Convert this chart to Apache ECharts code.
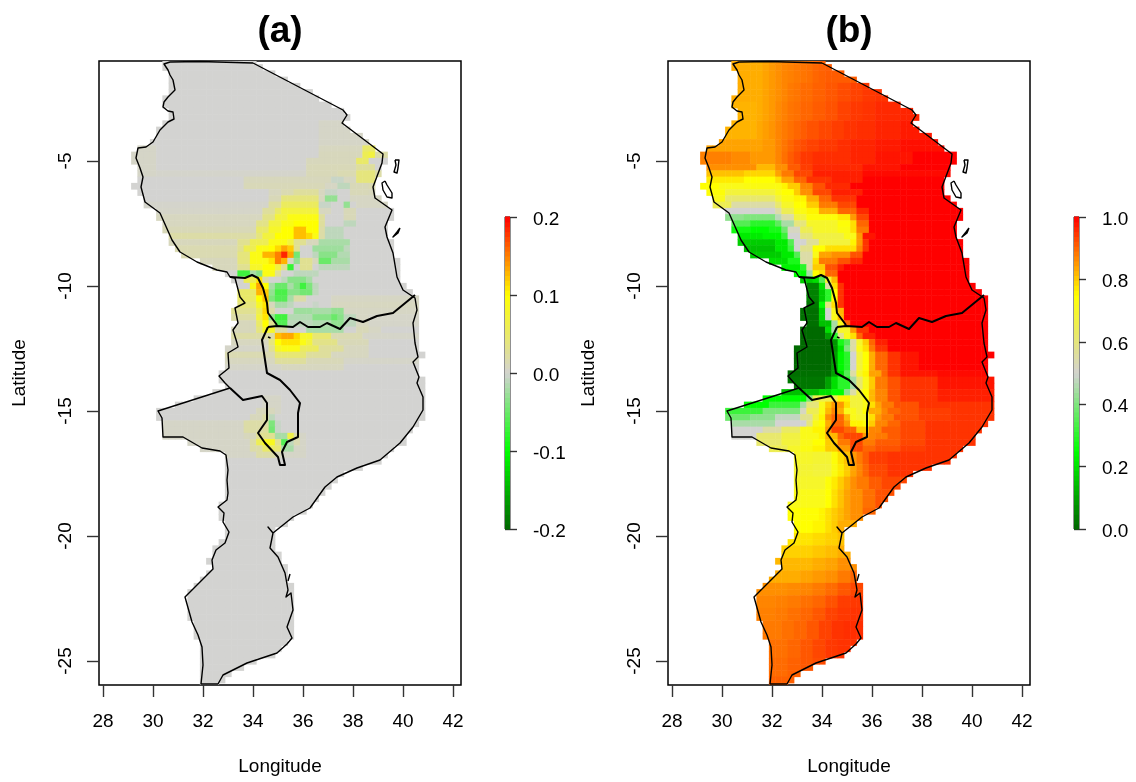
<!DOCTYPE html>
<html><head><meta charset="utf-8">
<style>html,body{margin:0;padding:0;background:#fff}#c{width:1136px;height:782px}</style>
<script src="https://cdn.jsdelivr.net/npm/echarts@6/dist/echarts.min.js"></script>
</head><body><div id="c"></div>
<script>
const titles = ['(a)', '(b)'];
const xTicks = [28,30,32,34,36,38,40,42];
const yTicks = [-25,-20,-15,-10,-5];
const colorStops = ['#006400','#00FF00','#D3D3D1','#FFFF00','#FF0000'];
// land extent of every 0.25 degree row, from lat -1 down to lat -26
const landWest = [30.5,30.5,30.75,30.75,30.75,30.75,30.5,30.5,30.75,30.75,
30.5,30.25,30.25,30,29.5,29.25,29.25,29.5,29.5,29.5,
29.25,29.5,29.75,29.75,30.25,30.25,30.5,30.5,30.75,30.75,
31,31.25,32,32.5,33,33.25,33.5,33.5,33.5,33.5,
33.25,33.25,33.5,33.25,33.25,33.25,33,33,33,33,
32.75,32.75,33,32.5,31.75,31,30.25,30.25,30.5,30.5,
30.5,31.5,32,33,33,33,33,33,33,33,
33,32.75,32.75,32.75,33,33,33,32.75,32.5,32.5,
32.25,32.5,32.25,32,31.75,31.5,31.5,31.5,31.5,31.5,
31.75,31.75,31.75,32,32,32,32,32,32,32,32];
const landEast = [34,34.25,34.75,35.25,35.75,36.25,36.5,37,37.5,37.75,
37.5,37.75,38.25,38.5,38.75,39.25,39.25,39,39,38.75,
38.75,38.75,39,39.25,39.5,39.5,39.25,39.25,39.25,39.5,
39.5,39.5,39.75,39.75,39.75,39.75,40,40.25,40.5,40.5,
40.5,40.5,40.5,40.5,40.5,40.5,40.5,40.75,40.5,40.5,
40.5,40.75,40.75,40.75,40.75,40.75,40.75,40.75,40.5,40.25,
40,40,39.5,39.25,39,38.25,37.5,37.25,37,36.75,
36.5,36.25,36,35.5,35.25,34.75,34.75,34.75,34.75,35,
35,35.25,35.25,35.25,35.5,35.5,35.5,35.5,35.5,35.5,
35.5,35.5,35.5,35.25,35,34.75,34,33.5,33,32.75,32.5];
// each entry: how many rows it covers, then pairs of (last longitude, value)
const fieldA = [
[10,42,0],[4,36.5,0,38.5,.005,42,.006],
[1,30,.005,36.5,0,38.25,.008,38.75,.05,42,.015],
[1,30,.005,36.5,0,38.25,.01,38.5,.06,38.75,.07,42,.02],
[1,30,.005,36,0,38,.01,38.5,.05,42,0],
[1,30,.005,36,0,38,.012,38.75,.025,42,0],
[1,30,.005,36,.003,37.25,.012,38,.015,38.75,.04,42,.02],
[1,33.5,0,37,.01,37.5,-.005,38,.008,38.75,.04,42,.01],
[1,33.5,0,36.75,.012,37.25,.006,37.75,-.01,38.5,.012,42,.015],
[1,34.5,0,35,.008,35.5,.015,36.5,.025,36.75,.008,37.25,-.005,37.75,0,38.5,.012,42,.01],
[1,34.5,0,35,.012,36.5,.04,36.75,.008,37.25,-.03,37.75,0,42,.006],
[1,34.5,.003,35,.025,36.5,.055,37,-.005,37.5,0,37.75,-.03,38,0,42,.006],
[1,34.25,.004,34.75,.025,35,.05,36.5,.07,37,.008,37.5,0,38,.012,42,0],
[1,34.25,.008,34.75,.035,35.25,.07,36.5,.09,36.75,.025,37.5,0,38,.012,42,0],
[1,34,.008,34.5,.035,35,.07,35.5,.09,36.5,.1,36.75,.025,37.5,0,38,-.01,42,0],
[1,34,.012,34.5,.05,35,.08,35.5,.1,36,.125,36.5,.1,36.75,.02,37.5,-.01,42,0],
[1,34,.02,34.25,.04,34.75,.07,35.5,.1,36,.125,36.25,.115,36.5,.09,36.75,.02,37.5,-.01,42,0],
[1,33.25,.01,33.75,.03,34.5,.06,35.25,.09,35.5,.07,36,.03,36.5,.01,37.75,-.02,42,0],
[1,33.25,.015,33.5,.03,34,.06,34.5,.09,34.75,.1,35,.115,35.25,.135,35.5,.12,35.75,.03,36.25,0,37.5,-.025,37.75,-.01,42,0],
[1,33.25,.015,33.75,.04,34.25,.09,34.75,.13,35,.15,35.25,.185,35.5,.135,35.75,-.045,36.25,0,36.5,-.01,37.25,-.035,37.75,-.015,42,0],
[1,33.25,.01,33.75,.04,34.5,.09,34.75,.11,35,.15,35.25,.13,35.5,.005,35.75,-.03,36.25,.03,36.5,.01,37,-.05,37.75,-.02,42,0],
[1,33.25,.01,33.75,.03,34.25,.08,34.75,.1,35,.07,35.25,.03,35.5,-.075,35.75,0,36.25,.03,36.5,0,37.75,-.01,42,0],
[1,33.25,0,33.75,-.07,34,-.02,34.25,-.035,34.75,.09,35,.03,35.5,0,36.5,-.01,42,0],
[1,33.5,0,34,.06,34.25,.11,34.5,.02,35,0,35.25,-.01,36,-.035,36.25,-.02,42,0],
[1,33.75,0,34,.09,34.25,.135,34.5,.1,34.75,-.02,35.25,-.05,35.5,-.02,35.75,-.04,36,-.07,36.25,-.04,36.5,-.01,42,0],
[1,34,.05,34.25,.13,34.5,.12,34.75,-.03,35.25,-.065,35.75,-.035,36.25,-.045,36.5,-.01,42,0],
[1,34,.05,34.25,.1,34.5,.125,34.75,-.04,35.25,-.06,35.5,-.02,36,.02,37,0,42,.006],
[1,34,.04,34.25,.08,34.5,.11,34.75,.01,35.25,-.02,35.5,-.01,36.25,0,36.5,-.005,37,0,37.5,.008,42,.008],
[1,34,.03,34.25,.06,34.5,.115,34.75,.02,35.5,0,36.25,-.025,37,-.02,37.5,-.03,38,.006,42,.006],
[1,34,.02,34.25,.07,34.5,.11,34.75,-.03,35.25,-.07,36.25,-.015,37,-.035,37.25,-.05,37.5,-.035,38,-.01,38.5,.006,42,.004],
[1,34,.01,34.25,.05,34.5,.1,34.75,.03,35.25,-.06,36.25,-.01,37,-.015,37.5,-.03,38,-.01,38.5,.008,42,.004],
[1,34,.01,34.25,.04,34.75,.08,35.25,.02,36,0,37.5,-.02,38,0,38.5,.012,39,.006,42,0],
[1,34.75,.02,35,.125,35.5,.135,35.75,.115,36.25,.08,37,.045,38.25,.015,42,.004],
[1,34.5,.008,34.75,.04,35,.1,35.75,.11,36,.09,36.25,.07,37.25,.035,38.5,.012,42,0],
[1,34.5,.004,34.75,.03,35,.08,35.75,.09,36.5,.055,37.5,.025,38.5,.008,42,0],
[1,34.75,.015,36,.045,37,.025,38.5,.008,42,0],
[1,34.75,.008,36,.025,37.5,.012,42,.004],
[1,35,.004,37.5,.008,42,0],
[4,42,0],
[2,34.25,0,35,.005,42,0],
[1,34,0,34.75,.01,35,.005,42,0],
[1,33.75,0,34.25,.01,34.5,.02,34.75,-.01,42,0],
[1,33.5,.005,34.5,.02,34.75,-.04,35,-.005,42,0],
[1,33.5,.005,34.25,.02,34.5,.025,34.75,-.045,35,-.005,42,0],
[1,33.5,.005,34,.01,34.75,.03,35.25,-.02,35.5,.065,35.75,.02,36,.005,42,0],
[1,33.75,.005,34,.02,34.25,.06,34.75,.085,35,.03,35.25,-.06,35.5,-.01,35.75,.015,36,.005,42,0],
[1,33.75,.005,34.25,.02,34.75,.05,35,.045,35.5,-.02,36,.005,42,0],
[1,34,.005,34.75,.02,35,.01,36,.005,42,0],
[37,42,0]
];
const fieldB = [
[4,31.5,.83,31.75,.84,32,.85,32.25,.86,32.5,.87,32.75,.875,33,.88,33.25,.885,33.5,.89,33.75,.9,34,.905,42,.91],
[3,31.5,.83,31.75,.84,32,.85,32.25,.86,32.5,.87,32.75,.88,33,.885,33.5,.895,34,.905,34.5,.915,35,.925,35.5,.935,36,.945,42,.95],
[3,31.25,.825,31.5,.83,31.75,.84,32,.85,32.25,.865,32.5,.875,32.75,.885,33,.89,33.5,.9,34,.91,34.5,.92,35,.935,35.5,.945,36,.95,37,.96,42,.965],
[3,31.25,.825,31.5,.835,31.75,.845,32,.855,32.25,.87,32.5,.88,32.75,.89,33,.9,33.25,.91,33.75,.92,34.25,.93,34.75,.94,35.25,.95,36,.955,37,.965,42,.975],
[2,31.5,.84,32,.85,32.25,.87,32.5,.885,32.75,.9,33,.915,33.25,.925,33.75,.935,34.5,.945,35,.955,36,.965,37,.975,42,.985],
[2,30.25,.875,31,.865,31.5,.85,32,.85,32.25,.87,32.5,.89,32.75,.91,33,.925,33.5,.945,35,.955,36,.965,37.5,.98,42,1],
[1,31.25,.86,32,.82,32.5,.86,33,.91,33.5,.94,35.5,.96,37,.98,42,1],
[1,30.75,.81,32,.79,32.25,.84,32.75,.88,33.5,.93,35.5,.97,42,.99],
[1,30.75,.77,32,.75,32.25,.78,32.75,.84,33.25,.9,34.25,.95,35.5,.97,42,1],
[1,29.75,.75,30.75,.72,32.25,.73,32.5,.76,33,.8,33.5,.87,34,.92,35,.96,42,1],
[1,30,.74,32,.68,32.25,.72,32.75,.75,33,.8,33.5,.86,34.25,.93,35.5,.97,42,1],
[1,30,.72,32,.62,32.25,.68,32.75,.73,33.25,.76,33.75,.83,34.25,.9,35.25,.95,42,1],
[1,30.25,.65,32,.55,32.25,.62,32.75,.7,33.25,.75,33.75,.8,34.5,.88,35.25,.93,42,1],
[1,32,.5,32.25,.55,32.75,.65,33.25,.73,33.75,.76,34.5,.83,35.25,.9,35.75,.96,42,1],
[1,30.75,.42,32,.4,32.25,.47,32.75,.55,33.25,.68,34.5,.74,35,.77,35.25,.85,35.75,.93,42,1],
[1,31,.35,32,.3,32.25,.36,32.75,.45,33.25,.6,34.5,.7,35,.74,35.25,.78,35.75,.9,42,1],
[1,31,.27,31.75,.25,32.25,.28,32.5,.38,33,.52,33.5,.65,34.5,.7,35,.73,35.25,.78,35.75,.88,42,1],
[1,31.5,.22,32.25,.24,32.5,.32,33,.5,33.5,.6,34.75,.67,35.25,.72,35.5,.85,36,.98,42,1],
[1,32,.17,32.5,.22,32.75,.35,33.25,.5,33.75,.57,35,.68,35.25,.76,35.5,.85,35.75,.95,42,1],
[1,32,.15,32.5,.22,32.75,.32,33,.5,33.5,.58,34,.75,35.25,.78,35.5,.87,35.75,.95,42,1],
[1,32.25,.17,32.75,.22,33,.35,33.5,.55,33.75,.72,34.25,.84,35,.86,35.5,.92,42,1],
[1,32.5,.2,33,.28,33.5,.55,33.75,.78,34.5,.88,35,.92,35.5,.96,42,1],
[1,33,.23,33.25,.3,33.5,.55,34,.8,34.5,.92,34.75,.97,42,1],
[1,33.25,.25,33.5,.45,33.75,.75,34,.78,34.5,.9,42,1],
[1,33.5,.17,33.75,.2,34,.35,34.25,.7,34.5,.82,42,1],
[1,33.75,.05,34,.2,34.25,.55,34.5,.78,34.75,.95,42,1],
[2,33.75,.05,34,.17,34.25,.3,34.5,.75,34.75,.95,42,1],
[1,33.75,.03,34,.25,34.25,.6,34.5,.78,34.75,.95,42,1],
[2,33.75,.02,34,.18,34.25,.5,34.5,.72,34.75,.82,42,1],
[1,33.75,.02,34.25,.15,34.5,.45,34.75,.72,35,.9,42,1],
[1,34,.01,34.25,.2,34.5,.45,35,.7,35.25,.85,35.75,.95,42,1],
[1,34,.01,34.25,.1,34.5,.3,34.75,.58,35,.72,35.25,.78,35.5,.9,36,.97,42,1],
[1,34.25,.01,34.5,.08,34.75,.28,35,.35,35.25,.55,35.5,.7,35.75,.8,36,.9,36.5,.97,42,1],
[1,34.25,.01,34.5,.08,34.75,.22,35,.4,35.25,.55,35.5,.72,35.75,.78,36,.88,36.5,.95,42,1],
[3,34.25,.01,34.5,.1,34.75,.24,35,.3,35.25,.5,35.5,.68,35.75,.75,36,.83,36.5,.9,37,.95,37.75,.98,42,1],
[1,34.25,.02,34.5,.1,34.75,.2,35,.35,35.25,.55,35.5,.7,35.75,.76,36.25,.84,36.5,.9,37,.95,38.5,.98,42,.99],
[2,34,.03,34.25,.1,34.5,.2,35,.3,35.25,.45,35.5,.62,35.75,.72,36,.8,36.5,.88,37,.92,38.5,.95,42,.98],
[1,33.75,.15,34.25,.2,34.75,.25,35,.42,35.25,.55,35.5,.68,35.75,.75,36,.82,36.5,.87,37,.92,38.5,.95,42,.97],
[1,33.25,.25,33.5,.4,34.5,.66,35,.76,35.5,.68,35.75,.74,36,.82,36.5,.87,37,.92,38.5,.95,42,.97],
[1,31.75,.25,33,.32,33.25,.45,33.75,.6,34,.72,34.25,.8,34.75,.85,35,.78,35.5,.68,35.75,.72,36,.78,36.25,.84,36.75,.88,37.75,.92,42,.95],
[1,31.5,.32,33,.4,33.25,.52,33.75,.65,34,.73,34.25,.82,34.5,.87,34.75,.83,35.25,.72,35.5,.68,35.75,.75,36.25,.83,36.5,.87,37,.9,37.75,.92,39,.94,42,.95],
[1,31,.38,32,.42,33,.48,33.5,.58,33.75,.68,34,.76,34.25,.86,34.75,.9,35,.82,35.25,.72,35.75,.7,36,.78,36.25,.85,36.75,.88,37.75,.92,39,.94,42,.95],
[1,32,.45,33.25,.5,33.5,.6,33.75,.72,34,.75,34.25,.83,34.75,.9,35,.85,35.5,.76,35.75,.74,36,.8,36.5,.87,37,.9,38,.93,42,.95],
[1,31.5,.5,32.25,.55,33,.63,33.5,.72,34,.76,34.25,.85,34.75,.93,35.25,.9,35.5,.8,35.75,.8,36.25,.87,37,.91,38,.93,42,.95],
[1,31.25,.5,32.25,.62,33,.67,33.75,.72,34,.76,34.5,.82,34.75,.9,35.5,.93,35.75,.85,36,.87,36.5,.88,37,.91,38,.93,42,.95],
[1,32.25,.62,33,.68,33.5,.72,34,.75,34.5,.8,35,.88,35.5,.93,36,.88,37,.91,38,.93,42,.95],
[1,32.5,.65,33,.7,33.5,.73,34,.76,34.5,.8,35,.85,35.5,.93,36,.9,37,.92,38,.94,42,.95],
[2,33.5,.7,34.25,.69,34.5,.74,34.75,.78,35,.81,35.25,.85,35.5,.88,35.75,.91,36.5,.94,42,.95],
[2,33.5,.69,34.25,.68,34.5,.73,34.75,.77,35,.8,35.25,.84,35.5,.87,35.75,.9,36.5,.93,42,.95],
[2,34,.7,34.25,.74,34.5,.77,34.75,.8,35,.83,35.25,.86,35.75,.88,36.25,.91,42,.93],
[3,34,.72,34.25,.75,34.5,.78,34.75,.81,35,.84,35.5,.86,36,.89,42,.92],
[2,33.75,.745,34,.76,34.25,.78,34.5,.8,34.75,.82,35,.84,35.5,.86,42,.9],
[2,33.5,.75,34,.76,34.25,.78,34.5,.8,42,.83],
[2,33.5,.775,34,.785,34.5,.795,42,.81],
[2,33.5,.795,34,.805,34.5,.815,42,.83],
[2,33.5,.82,34,.83,34.5,.84,42,.86],
[2,33,.83,33.5,.84,34,.85,34.5,.86,35,.88,42,.9],
[2,32.5,.86,33,.865,33.5,.87,34,.88,34.5,.895,35,.915,42,.93],
[2,32,.87,32.5,.875,33,.88,33.5,.89,34,.9,34.5,.92,35,.94,42,.945],
[2,32,.875,32.5,.88,33,.89,33.5,.9,34,.915,34.5,.935,35,.945,42,.95],
[3,32.25,.88,32.75,.89,33.25,.9,33.75,.915,34.25,.935,34.75,.95,42,.955],
[3,32.5,.89,33,.9,33.5,.915,34,.93,34.5,.945,42,.95],
[3,32.5,.895,33,.905,33.5,.915,34,.925,42,.93],
[2,42,.905]
];
// borders as [longitude, latitude]
const borderCoast = [[34,-1.08],[31.88,-1.02],[30.68,-1.04],[30.44,-1.12],[30.6,-1.36],[30.68,-1.56],[30.8,-1.76],[30.88,-2.16],[30.6,-2.44],[30.44,-2.64],[30.4,-2.84],[30.6,-3],[30.8,-3.04],[30.84,-3.32],[30.6,-3.44],[30.28,-3.76],[30,-4.24],[29.72,-4.44],[29.4,-4.48],[29.32,-4.88],[29.48,-5.28],[29.6,-5.64],[29.52,-6.04],[29.68,-6.64],[30.28,-7.08],[30.76,-8.16],[31.08,-8.64],[31.76,-9.04],[32.56,-9.36],[32.96,-9.44],[33.08,-9.64],[33.28,-9.68],[33.48,-10.44],[33.68,-10.68],[33.28,-10.88],[33.4,-11.48],[33.2,-11.76],[33.36,-12.28],[33.4,-12.44],[33,-12.68],[33.04,-13.28],[32.64,-13.6],[32.88,-13.88],[33.08,-14.08],[30.2,-15],[30.36,-15.28],[30.4,-16.04],[31.2,-16.04],[31.96,-16.48],[32.68,-16.6],[32.92,-16.76],[33,-17.36],[32.96,-17.76],[33,-18.28],[32.96,-18.56],[32.6,-18.84],[32.84,-19.08],[32.8,-19.44],[33.04,-19.84],[32.88,-20.28],[32.52,-20.56],[32.36,-20.96],[32.4,-21.32],[31.28,-22.44],[31.56,-23.44],[31.8,-23.96],[31.96,-24.44],[32,-25.16],[31.92,-25.92],[32,-26],[32.6,-25.92],[32.8,-25.56],[33.76,-25.08],[34.96,-24.68],[35.36,-24.32],[35.56,-24.08],[35.36,-23.64],[35.6,-22.96],[35.52,-22.28],[35.32,-22.44],[35.4,-22.16],[35.28,-21.48],[35,-20.84],[34.68,-20.48],[34.8,-19.88],[34.6,-19.64],[34.8,-19.88],[35.6,-19.24],[36.28,-18.88],[36.88,-18.04],[37.36,-17.64],[38.16,-17.28],[39.08,-16.96],[39.88,-16.28],[40.4,-15.64],[40.8,-14.96],[40.8,-14.44],[40.56,-13.88],[40.64,-13.64],[40.4,-13.04],[40.6,-12.84],[40.48,-12.28],[40.4,-11.48],[40.56,-10.96],[40.48,-10.48],[40,-10.16],[39.76,-9.64],[39.6,-8.68],[39.36,-8.04],[39.28,-7.64],[39.56,-6.96],[38.88,-6.48],[38.8,-6.04],[39.16,-5.08],[39.2,-4.72],[37.56,-3.48],[37.76,-3.16],[37.6,-2.96],[34,-1.08]];
const borderTanzaniaMalawi = [[33.08,-9.64],[33.68,-9.68],[33.96,-9.56],[34.2,-9.68],[34.4,-10.08],[34.56,-10.68],[34.6,-11.08],[34.96,-11.56]];
const borderTanzaniaMozambique = [[34.6,-11.64],[34.96,-11.6],[35.6,-11.64],[35.88,-11.44],[36.2,-11.64],[36.68,-11.64],[36.96,-11.48],[37.48,-11.72],[37.88,-11.28],[38.4,-11.44],[38.96,-11.2],[39.6,-11.08],[40.48,-10.36]];
const borderMalawi = [[34.6,-11.64],[34.36,-12.16],[34.56,-13.48],[35.08,-13.76],[35.48,-14.16],[35.88,-14.68],[35.8,-15.08],[35.8,-16.04],[35.36,-16.24],[35.16,-16.64],[35.28,-17.16],[35.08,-17.16],[35,-16.84],[34.48,-16.28],[34.2,-15.88],[34.56,-15.36],[34.56,-14.68],[34.36,-14.4],[33.6,-14.56],[33.08,-14.08]];
const islandPemba = [[39.68,-4.96],[39.84,-4.96],[39.8,-5.28],[39.76,-5.48],[39.64,-5.44],[39.72,-5.16],[39.68,-4.96]];
const islandZanzibar = [[39.28,-5.8],[39.36,-5.96],[39.56,-6.28],[39.56,-6.48],[39.36,-6.44],[39.2,-6.16],[39.16,-5.88],[39.28,-5.8]];
const islandMafia = [[39.88,-7.68],[39.8,-7.88],[39.6,-8.04],[39.56,-8],[39.76,-7.84],[39.88,-7.68]];
const islandBazaruto = [[35.48,-21.52],[35.4,-21.8]];
const islandLikoma = [[34.6,-12.04],[34.7,-12.08]];

const thin = [borderCoast, islandPemba, islandZanzibar, islandMafia, islandBazaruto, islandLikoma];
const thick = [borderTanzaniaMalawi, borderTanzaniaMozambique, borderMalawi];
const FONT = 'Liberation Sans';

function cells(field){
  const rows = [];
  field.forEach(r => { for (let i = 0; i < r[0]; i++) rows.push(r.slice(1)); });
  const out = [];
  landWest.forEach((w, k) => {
    const lat = -1 - 0.25 * k, runs = rows[k] || [42, 0];
    for (let lon = w; lon <= landEast[k]; lon += 0.25) {
      let v = runs[runs.length - 1];
      for (let j = 0; j < runs.length; j += 2) if (lon <= runs[j]) { v = runs[j + 1]; break; }
      out.push([lon, lat, v]);
    }
  });
  return out;
}
function renderCell(params, api){
  const p = api.coord([api.value(0) - 0.125, api.value(1) + 0.125]);
  const s = api.size([0.25, 0.25]);
  const shape = echarts.graphic.clipRectByRect(
    {x: p[0], y: p[1], width: s[0] + 0.5, height: s[1] + 0.5},
    {x: params.coordSys.x, y: params.coordSys.y, width: params.coordSys.width, height: params.coordSys.height});
  return shape && {type: 'rect', shape, style: {fill: api.visual('color')}};
}
function renderBar(params, api){
  const a = api.coord([0, api.value(1)]);
  const b = api.coord([1, api.value(1) + api.value(3)]);
  return {type: 'rect', shape: {x: a[0], y: b[1] - 0.5, width: b[0] - a[0], height: a[1] - b[1] + 1}, style: {fill: api.visual('color')}};
}
function barData(lo, hi){
  const n = 64, step = (hi - lo) / n, out = [];
  for (let i = 0; i < n; i++) { const v = lo + step * i; out.push([0, v, v + step / 2, step]); }
  return out;
}

const mapLeft = [99, 668], barLeft = [505, 1074];
const grid = [], xAxis = [], yAxis = [], series = [];
const common = {fontFamily: FONT, fontSize: 19, color: '#000'};
const tick = {show: true, length: 12, lineStyle: {color: '#333', width: 1.4}};
[0, 1].forEach(i => {
  grid.push({left: mapLeft[i], top: 61, width: 362, height: 624, show: true, borderColor: '#000', borderWidth: 1.5, backgroundColor: 'transparent'});
  xAxis.push({type: 'value', gridIndex: i, min: 27.84, max: 42.32, position: 'bottom',
    name: 'Longitude', nameLocation: 'middle', nameGap: 72, nameTextStyle: common,
    splitLine: {show: false}, axisLine: {show: false},
    axisTick: Object.assign({customValues: xTicks}, tick),
    axisLabel: Object.assign({customValues: xTicks, margin: 27, hideOverlap: false}, common)});
  yAxis.push({type: 'value', gridIndex: i, min: -25.96, max: -1, position: 'left',
    name: 'Latitude', nameLocation: 'middle', nameGap: 70, nameRotate: 90, nameTextStyle: common,
    splitLine: {show: false}, axisLine: {show: false},
    axisTick: Object.assign({customValues: yTicks}, tick),
    axisLabel: Object.assign({customValues: yTicks, rotate: 90, margin: 24, hideOverlap: false}, common)});
});
[0, 1].forEach(i => {
  series.push({type: 'custom', name: 'map' + i, xAxisIndex: i, yAxisIndex: i, renderItem: renderCell,
    data: cells(i ? fieldB : fieldA), encode: {x: 0, y: 1}, silent: true, animation: false, z: 2});
});
[0, 1].forEach(i => {
  grid.push({left: barLeft[i], top: 217, width: 5, height: 312, show: true, borderColor: '#222', borderWidth: 1});
  const lo = i ? 0 : -0.2, hi = i ? 1 : 0.2, iv = i ? 0.2 : 0.1;
  xAxis.push({type: 'value', gridIndex: i + 2, min: 0, max: 1, show: false});
  yAxis.push({type: 'value', gridIndex: i + 2, min: lo, max: hi, interval: iv, position: 'right',
    splitLine: {show: false}, axisLine: {show: false}, axisTick: tick,
    axisLabel: Object.assign({margin: 23, verticalAlign: 'top', lineHeight: 5, formatter: v => v.toFixed(1), hideOverlap: false, showMinLabel: true, showMaxLabel: true}, common)});
  series.push({type: 'custom', name: 'bar' + i, xAxisIndex: i + 2, yAxisIndex: i + 2, renderItem: renderBar,
    data: barData(lo, hi), encode: {x: 0, y: 1}, silent: true, animation: false, z: 2});
});
[0, 1].forEach(i => {
  const add = (pts, w) => series.push({type: 'line', xAxisIndex: i, yAxisIndex: i, data: pts, showSymbol: false, symbol: 'none',
    lineStyle: {color: '#000', width: w, join: 'round'}, silent: true, animation: false, z: 5, clip: true});
  thin.forEach(p => add(p, 1.4));
  thick.forEach(p => add(p, 2));
});

const chart = echarts.init(document.getElementById('c'), null, {renderer: 'canvas'});
chart.setOption({
  backgroundColor: '#fff', animation: false,
  textStyle: {fontFamily: FONT},
  title: [
    {text: titles[0], left: 275, top: 8, textAlign: 'center', textStyle: {fontFamily: FONT, fontSize: 37, fontWeight: 'bold', color: '#000'}},
    {text: titles[1], left: 844, top: 8, textAlign: 'center', textStyle: {fontFamily: FONT, fontSize: 37, fontWeight: 'bold', color: '#000'}}
  ],
  visualMap: [
    {show: false, seriesIndex: [0, 2], dimension: 2, min: -0.2, max: 0.2, inRange: {color: colorStops}},
    {show: false, seriesIndex: [1, 3], dimension: 2, min: 0, max: 1, inRange: {color: colorStops}}
  ],
  grid, xAxis, yAxis, series
});
</script></body></html>
